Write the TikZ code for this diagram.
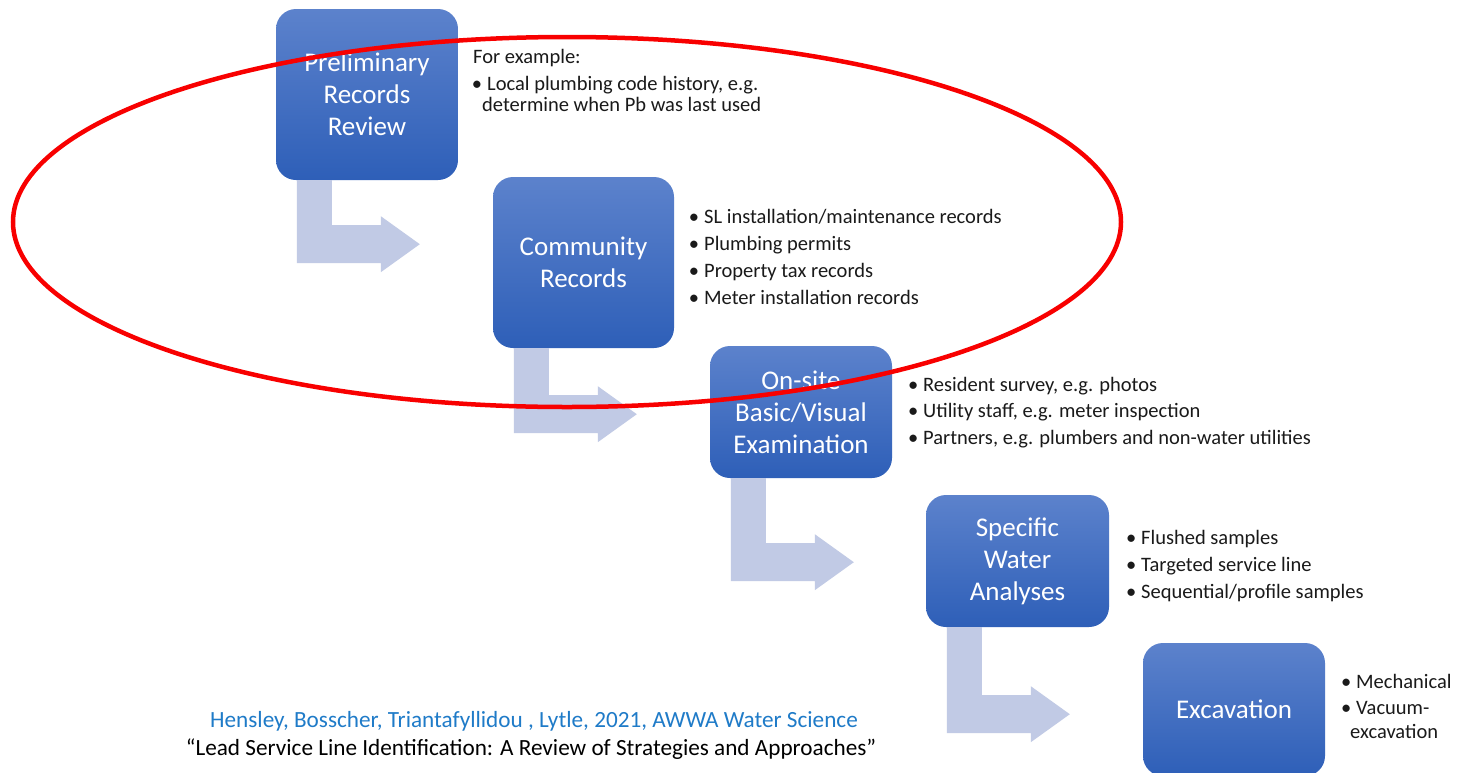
\documentclass[tikz,border=0pt]{standalone}
\usepackage{fontspec}
\setmainfont{Carlito}
\usetikzlibrary{calc}

\definecolor{boxtop}{HTML}{5C82CC}
\definecolor{boxbot}{HTML}{2E5FB8}
\definecolor{flowfill}{HTML}{C1CAE5}
\definecolor{citeblue}{HTML}{1F7BC8}
\definecolor{ink}{HTML}{1A1A1A}
\definecolor{ring}{HTML}{F80000}

\tikzset{
  stage/.style={rounded corners=20pt, top color=boxtop, bottom color=boxbot,
    draw=none, text=white, align=center, inner sep=0pt,
    font=\fontsize{27}{32}\selectfont},
  item/.style={anchor=base west, inner sep=0pt, text=ink,
    font=\fontsize{20.5}{24}\selectfont},
  flowarrow/.style={fill=flowfill},
  citeline/.style={inner sep=0pt, anchor=base, font=\fontsize{23.2}{27}\selectfont},
}

% bullet hung to the left of the item text
\newcommand\bulletitem[1]{\llap{\textbullet\hspace{5pt}}#1}

% bent arrow leaving the bottom of a stage box: #1 box name, #2 drop to the arm
\newcommand\bentarrow[2]{%
  \fill[flowarrow] ($(#1.south west)+(21,0)$) -- ++(35,0) -- ++(0,#2)
    -- ++(49,0) -- ++(0,-9) -- ++(39,28) -- ++(-39,28) -- ++(0,-9)
    -- ++(-84,0) -- cycle;}

\begin{document}
\begin{tikzpicture}[x=1pt,y=-1pt]
\fill[white] (0,0) rectangle (1457,772);
\useasboundingbox (0,0) rectangle (1457,772);

% stage boxes
\node[stage, minimum width=182, minimum height=171] (b1) at (367,94.5) {Preliminary\\Records\\Review};
\node[stage, minimum width=181, minimum height=171] (b2) at (583.5,262.5) {Community\\Records};
\node[stage, minimum width=182, minimum height=132] (b3) at (801,412) {On-site\\Basic/Visual\\Examination};
\node[stage, minimum width=183, minimum height=132] (b4) at (1017.5,561) {Specific\\Water\\Analyses};
\node[stage, minimum width=182, minimum height=133] (b5) at (1234,709.5) {Excavation};

% arrows between the stages
\bentarrow{b1}{45}
\bentarrow{b2}{47}
\bentarrow{b3}{65}
\bentarrow{b4}{68}

% notes beside each stage
\node[item] (p0) at (473,63) {For example:};
\node[item] (p1) at (487,90.5) {\bulletitem{Local plumbing code history, e.g.}};
\node[item] (p2) at (482,111) {determine when Pb was last used};

\foreach \t [count=\i] in {SL installation/maintenance records, Plumbing permits,
    Property tax records, Meter installation records}
  \node[item] (c\i) at (704,223+27*\i-27) {\bulletitem{\t}};

\foreach \t [count=\i] in {{Resident survey, e.g. photos}, {Utility staff, e.g. meter inspection},
    {Partners, e.g. plumbers and non-water utilities}}
  \node[item] (o\i) at (923,391+26.5*\i-26.5) {\bulletitem{\t}};

\foreach \t [count=\i] in {Flushed samples, Targeted service line, Sequential/profile samples}
  \node[item] (s\i) at (1141,544+27*\i-27) {\bulletitem{\t}};

\node[item] (e1) at (1356,688) {\bulletitem{Mechanical}};
\node[item] (e2) at (1356,714) {\bulletitem{Vacuum-}};
\node[item] (e3) at (1350,738) {excavation};

% source
\node[citeline, text=citeblue] (src) at (534,727) {Hensley, Bosscher, Triantafyllidou , Lytle, 2021, AWWA Water Science};
\node[citeline, text=black] (ttl) at (531,755) {“Lead Service Line Identification: A Review of Strategies and Approaches”};

% highlight ring
\draw[ring, line width=4.5pt] (567,222) ellipse [x radius=554, y radius=185];
\end{tikzpicture}
\end{document}
